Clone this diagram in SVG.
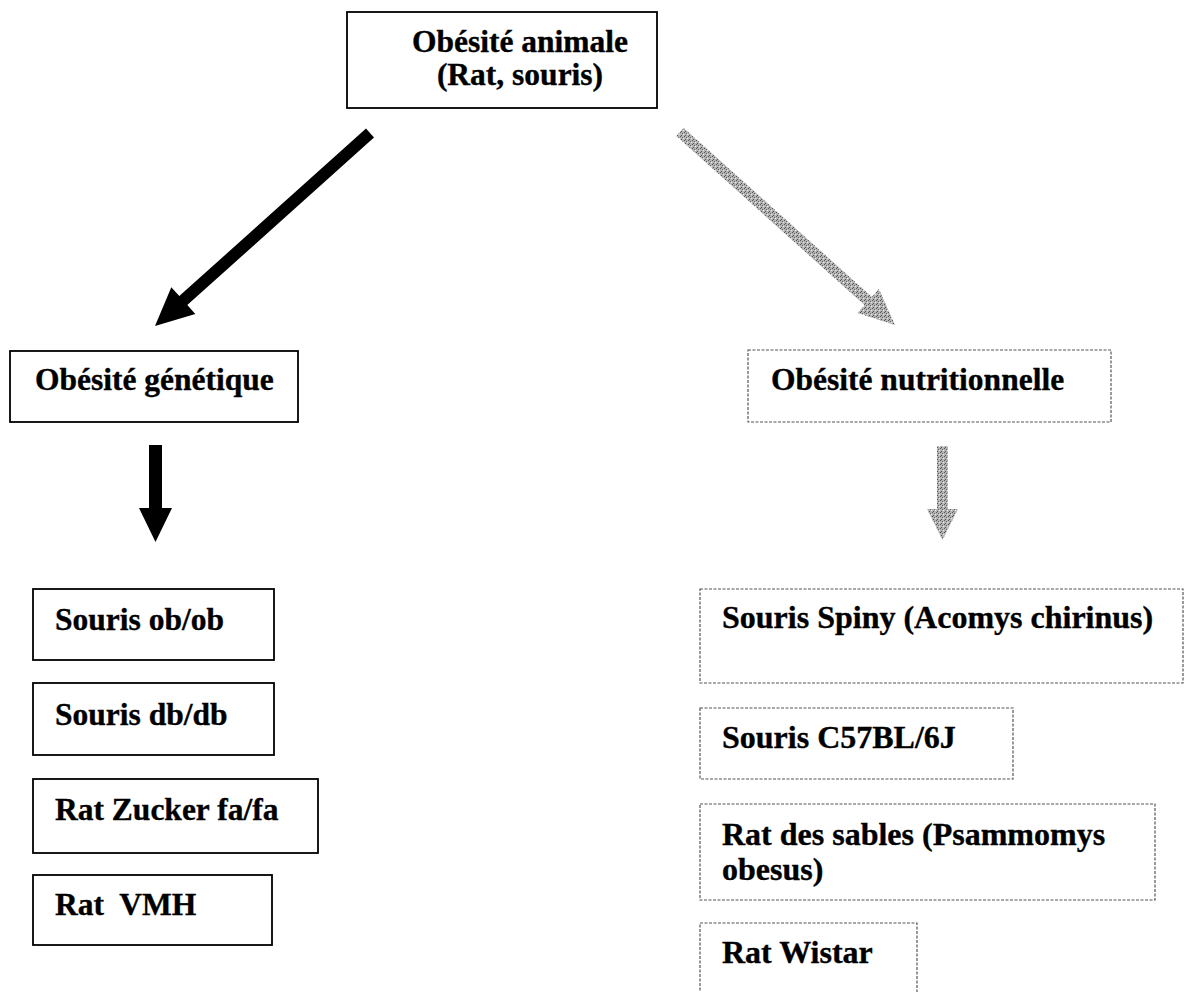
<svg xmlns="http://www.w3.org/2000/svg" width="1188" height="992" viewBox="0 0 1188 992">
  <defs>
    <style>
      .lbl { font-family: "Liberation Serif", "Times New Roman", serif; font-weight: bold; font-size: 31.5px; fill: #000; stroke: #000; stroke-width: 0.35; white-space: pre; }
      .big { font-size: 32px; }
      .solid { fill: #fff; stroke: #000; stroke-width: 1.8; }
      .grain { fill: #fff; stroke: #555; stroke-width: 1.2; stroke-dasharray: 3 1.5; }
      .dark { fill: #000; }
      .grey { fill: url(#stipple); }
    </style>
    <!-- stippled grey fill for the nutritional branch arrows -->
    <pattern id="stipple" width="4" height="4" patternUnits="userSpaceOnUse">
      <rect width="4" height="4" fill="#b4b4b4"/>
      <rect x="0" y="0" width="1" height="1" fill="#555"/>
      <rect x="2" y="1" width="1" height="1" fill="#666"/>
      <rect x="1" y="3" width="1" height="1" fill="#555"/>
      <rect x="3" y="2" width="1" height="1" fill="#ececec"/>
    </pattern>
  </defs>
  <rect width="1188" height="992" fill="#fff"/>

  <!-- connectors -->
  <g id="connectors">
    <polygon class="dark" points="374,137.5 187.3,305.1 195.3,314 155,326 171.3,287.2 179.3,296.1 366,128.5"/>
    <polygon class="grey" points="676.3,136.1 864.5,305.1 857.5,312.9 895,325 878.9,289.1 871.9,296.9 683.7,127.9"/>
    <polygon class="dark" points="149,445 162,445 162,508 172,508 155.5,542 139,508 149,508"/>
    <polygon class="grey" points="937,446 948,446 948,509 958,509 942.5,540 927,509 937,509"/>
  </g>

  <!-- root -->
  <g id="node-animale">
    <rect class="solid" x="347" y="12" width="310" height="96"/>
    <text class="lbl" x="520" y="52" text-anchor="middle">Obésité animale</text>
    <text class="lbl" x="520" y="85" text-anchor="middle">(Rat, souris)</text>
  </g>

  <!-- genetic branch -->
  <g id="node-genetique">
    <rect class="solid" x="10" y="351" width="288" height="71"/>
    <text class="lbl" x="35" y="390">Obésité génétique</text>
  </g>
  <g id="node-obob">
    <rect class="solid" x="33" y="589" width="241" height="71"/>
    <text class="lbl" x="55" y="630">Souris ob/ob</text>
  </g>
  <g id="node-dbdb">
    <rect class="solid" x="33" y="683" width="241" height="72"/>
    <text class="lbl" x="55" y="725">Souris db/db</text>
  </g>
  <g id="node-zucker">
    <rect class="solid" x="33" y="779" width="285" height="74"/>
    <text class="lbl" x="55" y="820">Rat Zucker fa/fa</text>
  </g>
  <g id="node-vmh">
    <rect class="solid" x="33" y="875" width="239" height="70"/>
    <text class="lbl" x="55" y="915">Rat  VMH</text>
  </g>

  <!-- nutritional branch -->
  <g id="node-nutritionnelle">
    <rect class="grain" x="748" y="350" width="363" height="72"/>
    <text class="lbl" x="771" y="390">Obésité nutritionnelle</text>
  </g>
  <g id="node-spiny">
    <rect class="grain" x="700" y="589" width="483" height="94"/>
    <text class="lbl big" x="722" y="628">Souris Spiny (Acomys chirinus)</text>
  </g>
  <g id="node-c57">
    <rect class="grain" x="700" y="708" width="313" height="71"/>
    <text class="lbl big" x="722" y="748">Souris C57BL/6J</text>
  </g>
  <g id="node-psammomys">
    <rect class="grain" x="700" y="804" width="455" height="96"/>
    <text class="lbl big" x="722" y="845">Rat des sables (Psammomys</text>
    <text class="lbl big" x="722" y="880">obesus)</text>
  </g>
  <g id="node-wistar">
    <rect class="grain" x="700" y="923" width="217" height="80"/>
    <text class="lbl big" x="722" y="963">Rat Wistar</text>
  </g>
</svg>
